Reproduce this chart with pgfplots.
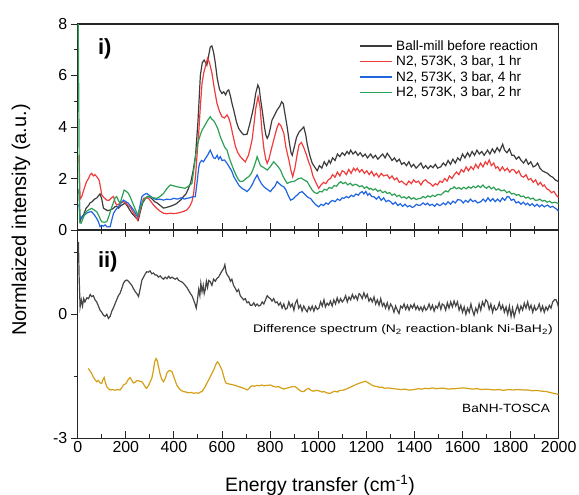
\documentclass[border=0pt]{standalone}
\usepackage{graphicx}
\usepackage{pgfplots}
\pgfplotsset{compat=1.18}
\usepackage{fontspec}
\setmainfont{Liberation Sans}
\definecolor{cblack}{HTML}{3C3C3C}
\definecolor{cred}{HTML}{F03C3C}
\definecolor{cblue}{HTML}{1F64E0}
\definecolor{cgreen}{HTML}{2EA055}
\definecolor{cgold}{HTML}{D4A017}
\begin{document}
\begin{tikzpicture}
\useasboundingbox (-77.7bp,-265bp) rectangle (501.3bp,230bp);
\pgfplotsset{
  common/.style={
    scale only axis, width=481bp,
    xmin=0, xmax=2000,
    xtick={0,200,...,2000}, minor xtick={100,300,...,1900},
    xtick align=inside, ytick align=outside,
    major tick length=7bp, minor tick length=4bp,
    axis line style={line width=1.1bp, black!85},
    every tick/.style={line width=1bp, black!85},
    /pgf/number format/assume math mode=true,
    /pgf/number format/1000 sep={},
    tick label style={font=\fontsize{16}{19}\selectfont},
    ytick pos=left,
    clip=true,
  }
}
% ---------------- top panel ----------------
\begin{axis}[common,
  at={(0,0)}, anchor=south west, height=206bp,
  ymin=0, ymax=8, ytick={0,2,4,6,8}, minor ytick={1,3,5,7},
  xtick pos=left, xticklabels={},
  legend style={at={(axis description cs:0.957,0.922)}, anchor=north east, draw=none, fill=none,
    font=\fontsize{13.6}{16}\selectfont, row sep=4.2bp, inner sep=0pt,
    nodes={inner sep=0pt}, column sep=4bp},
  legend cell align=left,
  legend image code/.code={\draw[#1] (0bp,0bp) -- (32bp,0bp);},
]
\addplot[cblack, line width=1.2bp] table {
5 1.6
10 0.35
17 0.5
25 0.6
35 0.85
45 0.95
51 1.05
60 1.1
70 1.2
80 1.25
88 1.35
93 1.4
100 1.2
107 0.85
115 0.8
125 0.75
135 0.78
145 0.82
155 0.9
162 0.92
170 0.85
180 0.95
190 1.0
197 1.05
205 0.95
215 0.8
225 0.65
235 0.55
245 0.45
252 0.38
260 0.7
270 1.05
280 1.2
290 1.3
300 1.28
310 1.2
320 1.1
330 1.05
340 0.98
350 0.9
357 0.85
370 0.88
385 0.92
399 0.97
410 1.02
420 1.1
430 1.18
440 1.3
450 1.4
460 1.6
470 1.85
480 2.3
490 2.9
500 4.2
510 6.0
518 6.5
526 6.6
537 6.4
545 6.8
551 7.1
558 7.15
565 6.9
572 6.5
580 5.9
590 5.45
600 5.3
607 5.37
615 5.25
622 5.4
628 5.44
635 5.2
642 4.9
649 4.65
660 4.2
669 3.95
680 3.8
690 3.7
704 3.72
715 4.1
725 4.5
732 4.8
740 5.3
749 5.63
755 5.5
760 5.1
767 4.66
775 4.1
782 3.7
788 3.56
795 3.7
808 4.27
818 4.45
829 4.66
840 4.8
848 4.98
855 4.9
862 4.5
871 4.0
880 3.4
887 3.0
892 2.9
900 3.2
910 3.6
920 3.8
930 3.9
940 4.0
948 3.7
955 3.3
965 2.9
975 2.6
985 2.45
996 2.3
1005 2.5
1015 2.4
1025 2.65
1035 2.5
1045 2.7
1051 2.59
1060 2.8
1070 2.7
1080 2.95
1090 2.85
1100 3.0
1110 2.9
1120 3.05
1128 2.95
1135 3.1
1145 2.95
1155 3.05
1165 2.9
1175 3.0
1185 2.85
1195 2.95
1205 2.8
1218 2.95
1228 2.8
1238 2.9
1248 2.75
1258 2.85
1268 2.95
1278 2.8
1287 2.98
1297 2.85
1307 2.7
1317 2.8
1327 2.65
1337 2.75
1347 2.55
1357 2.62
1367 2.5
1377 2.65
1387 2.45
1397 2.55
1407 2.4
1417 2.5
1427 2.6
1437 2.4
1447 2.5
1457 2.38
1467 2.5
1477 2.42
1487 2.55
1497 2.4
1510 2.46
1520 2.6
1530 2.5
1540 2.7
1550 2.55
1560 2.75
1570 2.6
1580 2.8
1590 2.7
1600 2.95
1610 2.8
1621 3.0
1630 2.85
1640 3.05
1650 2.9
1660 3.1
1670 2.95
1680 3.05
1690 2.9
1704 3.1
1714 2.95
1724 3.15
1734 3.0
1744 3.2
1754 3.05
1767 3.33
1775 3.1
1785 3.0
1795 3.15
1805 2.9
1814 2.9
1824 2.75
1834 2.85
1844 2.7
1854 2.6
1864 2.75
1874 2.55
1884 2.65
1894 2.45
1904 2.5
1912 2.6
1922 2.4
1932 2.3
1942 2.25
1954 2.2
1965 2.1
1975 2.05
1985 1.95
1995 1.9
2000 1.85
};
\addlegendentry{Ball-mill before reaction}
\addplot[cred, line width=1.2bp] table {
5 2.9
10 1.2
17 1.3
25 1.55
37 1.88
45 2.0
52 2.15
58 2.2
65 2.1
72 2.15
79 2.07
85 2.0
90 1.9
95 1.65
100 1.36
110 1.25
121 1.16
130 1.15
140 1.25
149 1.3
155 1.1
162 0.97
170 1.0
180 1.05
190 1.1
200 1.05
210 0.95
218 0.9
230 0.7
240 0.55
249 0.39
258 0.7
267 1.05
274 1.23
285 1.25
294 1.23
305 1.1
317 0.95
329 0.84
340 0.75
357 0.65
370 0.63
385 0.65
400 0.64
412 0.65
425 0.68
440 0.72
454 0.78
465 0.9
475 1.1
482 1.42
490 2.1
497 3.0
503 3.75
510 4.8
517 5.7
524 6.1
531 6.35
540 6.67
548 6.5
558 6.1
568 5.5
579 4.92
590 4.6
600 4.4
610 4.35
621 4.47
628 4.35
635 4.14
645 3.7
656 3.24
666 3.0
676 2.85
686 2.75
697 2.65
710 2.9
718 3.2
725 3.5
733 4.1
740 4.7
750 5.18
758 4.8
767 3.75
775 3.1
782 2.75
788 2.59
795 2.75
808 3.24
818 3.6
828 3.95
836 4.14
845 4.05
857 3.75
866 3.2
878 2.72
887 2.3
894 2.07
903 2.4
912 2.9
920 3.3
930 3.4
940 3.2
950 2.95
960 2.65
968 2.46
978 2.1
990 1.85
1002 1.62
1012 1.75
1022 1.85
1032 1.8
1042 1.95
1051 2.0
1060 2.15
1070 2.05
1080 2.25
1090 2.1
1100 2.3
1107 2.27
1117 2.15
1127 2.35
1137 2.2
1147 2.4
1155 2.3
1162 2.4
1172 2.25
1182 2.35
1192 2.2
1202 2.3
1212 2.15
1222 2.28
1232 2.1
1242 2.2
1252 2.05
1262 2.2
1272 2.1
1287 2.14
1297 2.0
1307 2.1
1317 1.95
1327 2.02
1337 1.85
1347 1.9
1357 1.81
1367 1.75
1377 1.9
1387 1.8
1397 1.95
1407 1.85
1417 1.9
1427 1.75
1437 1.9
1447 1.95
1457 1.85
1467 1.8
1477 1.7
1487 1.8
1496 1.75
1506 1.9
1516 1.85
1526 2.0
1536 1.9
1546 2.1
1556 2.0
1565 2.14
1575 2.25
1585 2.15
1595 2.35
1605 2.25
1615 2.45
1625 2.3
1635 2.46
1645 2.35
1655 2.55
1665 2.4
1675 2.6
1685 2.45
1695 2.65
1703 2.55
1711 2.72
1720 2.5
1730 2.6
1738 2.4
1746 2.46
1756 2.3
1766 2.45
1776 2.3
1786 2.4
1796 2.25
1806 2.35
1814 2.33
1824 2.2
1834 2.3
1844 2.1
1854 2.05
1864 2.15
1874 1.95
1884 2.0
1894 1.85
1904 1.95
1914 1.75
1924 1.85
1934 1.7
1940 1.75
1950 1.6
1960 1.55
1970 1.45
1980 1.5
1990 1.35
2000 1.25
};
\addlegendentry{N2, 573K, 3 bar, 1 hr}
\addplot[cblue, line width=1.2bp] table {
5 1.0
10 0.45
14 0.45
25 0.55
37 0.65
48 0.7
58 0.71
68 0.6
79 0.45
87 0.3
93 0.13
100 0.18
107 0.15
114 0.2
122 0.12
135 0.13
142 0.4
149 0.65
158 0.78
169 0.9
180 1.05
190 1.16
200 1.1
211 1.04
222 0.9
232 0.78
242 0.62
249 0.52
258 0.9
267 1.3
277 1.38
287 1.42
297 1.35
307 1.28
315 1.23
327 1.18
340 1.2
357 1.16
370 1.2
385 1.18
399 1.23
415 1.2
430 1.25
444 1.2
454 1.23
465 1.25
475 1.28
489 1.3
497 1.9
503 2.4
507 2.59
515 2.7
523 2.65
531 2.78
540 2.9
551 3.1
558 2.95
565 2.8
572 2.78
580 2.9
586 2.75
593 2.85
600 2.7
610 2.72
621 2.59
630 2.45
640 2.3
649 2.07
660 1.9
669 1.75
676 1.68
686 1.6
696 1.55
704 1.49
715 1.6
725 1.75
735 1.95
746 2.14
755 1.95
764 1.8
774 1.68
785 1.6
793 1.55
801 1.49
810 1.6
820 1.7
829 1.88
838 1.8
848 1.72
857 1.68
866 1.55
875 1.35
885 1.16
895 1.2
905 1.3
913 1.36
922 1.45
933 1.49
943 1.4
953 1.3
960 1.25
968 1.23
978 1.1
990 0.98
1002 0.9
1012 1.0
1022 0.95
1032 1.05
1042 1.0
1051 1.1
1060 1.15
1070 1.1
1080 1.2
1090 1.15
1100 1.25
1107 1.23
1117 1.3
1127 1.25
1137 1.35
1147 1.3
1157 1.4
1167 1.35
1175 1.45
1183 1.49
1190 1.4
1198 1.5
1206 1.35
1214 1.42
1222 1.3
1232 1.29
1242 1.2
1252 1.3
1262 1.15
1272 1.25
1282 1.1
1292 1.15
1301 1.1
1311 1.0
1321 1.08
1331 0.95
1341 1.02
1351 0.92
1361 1.0
1371 0.9
1381 0.95
1390 0.88
1398 0.9
1408 1.0
1418 0.95
1426 0.97
1436 1.05
1446 0.98
1454 1.04
1464 0.95
1474 1.0
1484 0.92
1494 1.02
1504 0.95
1510 0.97
1520 1.05
1530 0.98
1540 1.1
1550 1.0
1560 1.12
1570 1.05
1580 1.18
1593 1.16
1603 1.05
1613 1.15
1623 1.08
1633 1.2
1643 1.1
1653 1.15
1663 1.05
1676 1.1
1686 1.2
1696 1.1
1706 1.25
1716 1.12
1726 1.22
1736 1.1
1746 1.2
1756 1.1
1766 1.25
1776 1.15
1786 1.3
1793 1.29
1803 1.15
1813 1.2
1823 1.05
1833 1.1
1843 1.0
1853 1.08
1863 0.98
1870 1.04
1880 0.95
1890 1.02
1900 0.92
1910 1.0
1920 0.9
1930 0.98
1940 0.9
1954 0.97
1965 0.88
1975 0.92
1985 0.85
1993 0.8
2000 0.71
};
\addlegendentry{N2, 573K, 3 bar, 4 hr}
\addplot[cgreen, line width=1.2bp] table {
2 8.3
8 0.3
14 0.26
22 0.45
31 0.65
40 0.75
50 0.8
58 0.84
68 0.78
79 0.71
88 0.55
95 0.4
100 0.32
110 0.3
121 0.32
130 0.55
142 0.9
150 1.1
156 1.25
162 1.3
169 1.15
176 1.04
185 1.3
193 1.55
202 1.5
211 1.42
220 1.25
232 0.97
242 0.75
250 0.58
258 0.8
266 1.0
274 1.16
282 1.25
290 1.3
300 1.28
315 1.25
329 1.23
342 1.3
357 1.42
370 1.6
385 1.75
398 1.72
412 1.68
430 1.65
447 1.62
460 1.7
475 1.81
485 2.5
492 3.0
500 3.4
510 3.7
517 3.88
528 4.05
540 4.25
551 4.4
558 4.3
565 4.25
572 4.14
582 3.95
593 3.62
605 3.35
612 3.2
621 3.1
630 2.8
640 2.55
649 2.33
660 2.1
669 1.95
676 1.88
688 1.9
700 2.0
711 2.07
722 2.2
733 2.45
740 2.65
746 2.85
752 2.7
760 2.5
767 2.46
777 2.4
788 2.33
800 2.45
815 2.65
825 2.55
834 2.45
843 2.33
853 2.1
862 1.95
871 1.81
880 1.85
890 1.88
899 1.88
910 1.95
920 2.0
930 2.02
940 1.95
954 1.88
965 1.7
975 1.55
985 1.45
996 1.42
1006 1.5
1016 1.48
1026 1.58
1036 1.55
1046 1.65
1056 1.62
1066 1.72
1076 1.7
1086 1.82
1093 1.88
1103 1.8
1113 1.85
1123 1.75
1133 1.82
1143 1.72
1153 1.78
1162 1.75
1172 1.68
1182 1.72
1192 1.62
1202 1.68
1212 1.58
1218 1.62
1228 1.55
1238 1.6
1248 1.5
1258 1.55
1268 1.45
1278 1.5
1287 1.42
1297 1.45
1307 1.35
1317 1.4
1327 1.3
1337 1.35
1347 1.25
1357 1.29
1367 1.22
1377 1.3
1387 1.2
1397 1.25
1407 1.18
1417 1.22
1426 1.23
1436 1.3
1446 1.25
1456 1.33
1466 1.28
1476 1.35
1486 1.3
1496 1.38
1510 1.36
1520 1.45
1530 1.52
1540 1.48
1550 1.6
1560 1.62
1565 1.68
1575 1.6
1585 1.65
1595 1.58
1605 1.66
1615 1.6
1625 1.68
1635 1.62
1645 1.7
1655 1.64
1665 1.72
1675 1.65
1685 1.75
1690 1.68
1700 1.62
1710 1.7
1720 1.6
1730 1.66
1740 1.55
1750 1.6
1760 1.52
1774 1.55
1784 1.45
1794 1.5
1804 1.4
1814 1.42
1824 1.35
1834 1.38
1843 1.29
1853 1.32
1863 1.24
1873 1.28
1883 1.2
1893 1.24
1903 1.15
1912 1.16
1922 1.2
1932 1.12
1942 1.15
1952 1.08
1962 1.12
1972 1.05
1982 1.08
1996 1.04
2000 1.0
};
\addlegendentry{H2, 573K, 3 bar, 2 hr}
\node[anchor=west, font=\fontsize{22}{26}\selectfont\bfseries] at (axis cs:70,7.05) {i)};
\end{axis}
% ---------------- bottom panel ----------------
\begin{axis}[common,
  at={(0,0)}, anchor=north west, height=208.3bp,
  ymin=-3, ymax=2.04, ytick={-3,0}, minor ytick={-1.5,1.5},
  xtick pos=both, xticklabel pos=left,
]
\addplot[cblack!95, line width=1.2bp] table {
3 1.75
6 0.9
10 0.18
15 0.35
20 0.2
25 0.38
30 0.3
38 0.4
45 0.38
52 0.48
58 0.43
65 0.45
72 0.35
79 0.3
86 0.2
93 0.1
100 0.05
107 -0.02
114 -0.05
121 0.0
128 -0.1
135 -0.05
142 0.08
148 0.15
155 0.25
162 0.35
169 0.45
176 0.51
183 0.62
190 0.75
197 0.81
204 0.83
211 0.8
218 0.75
225 0.7
232 0.62
239 0.55
246 0.5
253 0.43
260 0.62
267 0.83
274 0.9
281 0.98
287 1.03
294 1.02
301 1.05
308 0.98
315 1.0
322 0.95
329 0.95
336 0.9
343 0.93
350 0.88
357 0.85
364 0.9
371 0.86
378 0.92
385 0.87
392 0.9
399 0.87
406 0.85
413 0.88
420 0.82
427 0.8
434 0.78
440 0.75
447 0.7
454 0.65
461 0.58
468 0.51
475 0.45
482 0.35
488 0.25
493 0.15
498 0.35
503 0.6
508 0.45
512 0.75
517 0.55
522 0.7
526 0.5
530 0.59
535 0.8
540 0.65
545 0.82
551 0.79
558 0.7
565 0.85
572 0.8
579 0.87
586 0.9
593 0.98
600 1.05
607 1.11
612 1.2
617 1.02
622 0.95
628 0.91
635 0.8
641 0.85
648 0.7
655 0.63
662 0.55
669 0.6
676 0.45
683 0.4
690 0.35
697 0.38
704 0.28
711 0.3
718 0.22
725 0.22
732 0.28
739 0.2
746 0.25
753 0.2
760 0.22
767 0.3
774 0.25
781 0.35
788 0.45
794 0.41
801 0.38
808 0.32
815 0.38
822 0.28
829 0.3
836 0.22
843 0.28
850 0.15
857 0.25
864 0.12
871 0.15
878 0.3
885 0.18
892 0.25
899 0.1
905 0.27
912 0.35
919 0.15
926 0.22
933 0.08
940 0.2
947 0.12
954 0.06
961 0.18
968 0.1
975 0.2
982 0.08
989 0.2
996 0.12
1003 0.15
1010 0.3
1017 0.2
1024 0.35
1030 0.18
1037 0.27
1044 0.22
1051 0.32
1058 0.2
1065 0.35
1072 0.25
1079 0.4
1086 0.28
1093 0.38
1100 0.3
1107 0.35
1114 0.45
1121 0.3
1128 0.42
1135 0.35
1142 0.48
1149 0.38
1156 0.45
1163 0.35
1170 0.5
1176 0.47
1183 0.38
1190 0.52
1197 0.4
1204 0.48
1211 0.32
1218 0.39
1225 0.3
1232 0.42
1239 0.25
1246 0.35
1253 0.22
1260 0.38
1267 0.2
1273 0.27
1280 0.15
1287 0.28
1294 0.12
1301 0.25
1308 0.18
1315 0.05
1322 0.2
1329 0.1
1336 0.02
1343 0.2
1350 0.15
1357 0.25
1364 0.12
1371 0.22
1378 0.1
1385 0.22
1392 0.15
1399 0.25
1406 0.12
1413 0.2
1420 0.1
1427 0.18
1434 0.08
1441 0.2
1448 0.1
1454 0.14
1461 0.25
1468 0.12
1475 0.22
1482 0.08
1489 0.2
1496 0.15
1503 0.28
1510 0.12
1516 0.25
1523 0.22
1530 0.1
1537 0.28
1544 0.15
1551 0.3
1558 0.18
1565 0.32
1572 0.2
1579 0.3
1586 0.1
1593 0.22
1600 0.05
1607 0.18
1614 0.0
1621 0.15
1628 0.05
1635 0.25
1641 0.1
1648 -0.02
1655 0.15
1662 0.05
1669 0.25
1676 0.1
1683 0.3
1690 0.2
1697 0.35
1704 0.3
1711 0.12
1718 0.25
1725 0.05
1732 0.2
1739 0.1
1746 0.14
1753 0.28
1760 0.12
1767 0.22
1774 0.05
1781 0.18
1788 0.0
1795 0.2
1802 -0.05
1808 0.15
1815 -0.06
1822 0.1
1829 0.22
1836 0.05
1843 0.2
1850 0.1
1857 0.27
1864 0.15
1871 0.3
1878 0.12
1885 0.22
1892 0.05
1899 0.2
1905 0.1
1912 0.14
1919 0.25
1926 0.08
1933 0.2
1940 0.05
1947 0.18
1954 0.1
1961 0.22
1968 0.15
1975 0.3
1982 0.35
1989 0.35
1996 0.25
2000 0.14
};
\addplot[cgold, line width=1.2bp] table {
44 -1.31
50 -1.36
58 -1.43
65 -1.52
72 -1.58
79 -1.63
86 -1.6
93 -1.66
100 -1.67
105 -1.58
110 -1.53
115 -1.65
121 -1.75
128 -1.8
135 -1.83
145 -1.82
155 -1.84
165 -1.82
176 -1.83
183 -1.78
190 -1.71
200 -1.68
210 -1.58
218 -1.53
225 -1.6
232 -1.66
240 -1.64
247 -1.6
253 -1.61
260 -1.62
267 -1.63
275 -1.7
282 -1.77
287 -1.79
295 -1.72
300 -1.65
308 -1.55
315 -1.35
320 -1.15
326 -1.07
331 -1.12
336 -1.27
343 -1.45
350 -1.58
357 -1.63
364 -1.55
371 -1.42
378 -1.37
385 -1.36
392 -1.39
399 -1.5
406 -1.62
412 -1.71
420 -1.78
430 -1.84
440 -1.87
450 -1.88
460 -1.9
470 -1.89
482 -1.91
492 -1.9
502 -1.91
510 -1.88
517 -1.87
525 -1.8
531 -1.74
537 -1.67
545 -1.58
552 -1.5
558 -1.43
565 -1.35
572 -1.25
577 -1.18
582 -1.15
588 -1.2
594 -1.28
600 -1.35
606 -1.48
612 -1.6
618 -1.67
625 -1.68
632 -1.69
640 -1.7
648 -1.71
656 -1.72
665 -1.74
675 -1.76
685 -1.78
695 -1.8
704 -1.83
712 -1.8
718 -1.75
725 -1.73
735 -1.74
745 -1.72
755 -1.73
765 -1.71
775 -1.73
785 -1.72
801 -1.71
812 -1.74
825 -1.76
835 -1.75
845 -1.78
857 -1.81
866 -1.79
875 -1.78
885 -1.76
895 -1.75
905 -1.75
915 -1.8
925 -1.85
933 -1.87
940 -1.87
950 -1.82
961 -1.79
970 -1.84
980 -1.86
990 -1.84
1003 -1.85
1015 -1.88
1025 -1.87
1035 -1.9
1045 -1.91
1051 -1.91
1060 -1.88
1070 -1.86
1080 -1.88
1090 -1.84
1100 -1.84
1107 -1.83
1120 -1.8
1135 -1.76
1150 -1.72
1165 -1.68
1180 -1.65
1190 -1.63
1197 -1.62
1205 -1.65
1215 -1.68
1225 -1.72
1235 -1.74
1246 -1.75
1256 -1.77
1266 -1.76
1275 -1.79
1288 -1.78
1301 -1.79
1315 -1.8
1330 -1.81
1345 -1.82
1360 -1.81
1375 -1.83
1385 -1.83
1400 -1.82
1415 -1.8
1430 -1.81
1445 -1.79
1460 -1.8
1475 -1.78
1490 -1.8
1505 -1.79
1523 -1.79
1540 -1.81
1555 -1.8
1570 -1.8
1585 -1.79
1600 -1.78
1621 -1.79
1640 -1.81
1660 -1.8
1680 -1.82
1700 -1.81
1716 -1.82
1732 -1.83
1750 -1.82
1770 -1.84
1790 -1.82
1810 -1.83
1830 -1.82
1850 -1.83
1871 -1.83
1890 -1.85
1910 -1.84
1930 -1.86
1950 -1.87
1970 -1.9
1985 -1.92
2000 -1.94
};
\node[anchor=west, font=\fontsize{22}{26}\selectfont\bfseries] at (axis cs:70,1.27) {ii)};
\node[anchor=east, font=\fontsize{11}{13}\selectfont, inner sep=0pt] at (axis cs:1976,-0.38) {\scalebox{1.27}[1]{Difference spectrum (N\textsubscript{2} reaction-blank Ni-BaH\textsubscript{2})}};
\node[anchor=east, font=\fontsize{12}{14}\selectfont, inner sep=0pt] at (axis cs:1964,-2.27) {\scalebox{1.14}[1]{BaNH-TOSCA}};
\end{axis}
\node[rotate=90, font=\fontsize{20}{24}\selectfont] at (-56.7bp,10bp) {Normlaized intensity (a.u.)};
\node[anchor=base, font=\fontsize{19.5}{23}\selectfont, inner sep=0pt] at (242.3bp,-261.7bp) {Energy transfer (cm\textsuperscript{-1})};
\end{tikzpicture}
\end{document}
